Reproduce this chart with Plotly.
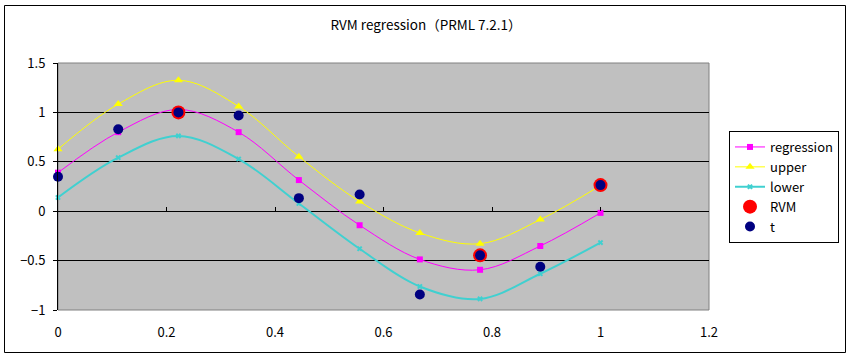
import plotly.graph_objects as go

# ---- data ----
x_vals = [0.0, 0.111, 0.222, 0.333, 0.444, 0.556, 0.667, 0.778, 0.889, 1.0]
regression = [0.39, 0.80, 1.03, 0.80, 0.315, -0.142, -0.488, -0.593, -0.352, -0.017]
upper = [0.627, 1.084, 1.325, 1.06, 0.552, 0.098, -0.22, -0.329, -0.085, 0.26]
lower = [0.139, 0.542, 0.762, 0.528, 0.078, -0.38, -0.762, -0.888, -0.633, -0.318]
t_vals = [0.349, 0.83, 1.0, 0.969, 0.132, 0.169, -0.843, -0.447, -0.562, 0.264]
rvm_x = [0.222, 0.778, 1.0]
rvm_y = [1.0, -0.447, 0.264]

title_text = "RVM regression（PRML 7.2.1）"
FONT = "Noto Sans CJK JP, Liberation Sans, sans-serif"

fig = go.Figure()
fig.add_trace(go.Scatter(x=x_vals, y=regression, name="regression", mode="lines+markers",
                         line=dict(color="#FF00FF", width=1, shape="spline"),
                         marker=dict(symbol="square", size=6, color="#FF00FF"), cliponaxis=False))
fig.add_trace(go.Scatter(x=x_vals, y=upper, name="upper", mode="lines+markers",
                         line=dict(color="#FFFF00", width=1, shape="spline"),
                         marker=dict(symbol="triangle-up", size=8, color="#FFFF00"), cliponaxis=False))
fig.add_trace(go.Scatter(x=x_vals, y=lower, name="lower", mode="lines+markers",
                         line=dict(color="#40D0D0", width=2, shape="spline"),
                         marker=dict(symbol="x", size=5, color="#40D0D0"), cliponaxis=False))
fig.add_trace(go.Scatter(x=rvm_x, y=rvm_y, name="RVM", mode="markers",
                         marker=dict(symbol="circle", size=14, color="#FF0000"), cliponaxis=False))
fig.add_trace(go.Scatter(x=x_vals, y=t_vals, name="t", mode="markers",
                         marker=dict(symbol="circle", size=10, color="#000080"), cliponaxis=False))
# helper trace for the tick-mark axis crossing at y=0
fig.add_trace(go.Scatter(x=[], y=[], xaxis="x2", showlegend=False, hoverinfo="skip"))

W, H = 852, 359
L, R, T, B = 58, 143, 63, 49
pw, ph = W - L - R, H - T - B

def px_x(p):
    return (p - L) / pw

def px_y(p):
    return (H - B - p) / ph

fig.update_layout(
    width=W, height=H,
    margin=dict(l=L, r=R, t=T, b=B),
    paper_bgcolor="white",
    plot_bgcolor="#C0C0C0",
    font=dict(family=FONT, size=13, color="black"),
    title=dict(text=title_text, x=0.5, xanchor="center", y=1 - 25 / H, yanchor="middle",
               font=dict(family=FONT, size=13.5, color="black")),
    showlegend=True,
    legend=dict(x=px_x(729), y=px_y(131), xanchor="left", yanchor="top",
                bordercolor="black", borderwidth=1, bgcolor="white", itemwidth=30,
                font=dict(family=FONT, size=13), tracegroupgap=0),
    xaxis=dict(range=[0, 1.2], dtick=0.2, tick0=0, showgrid=False, zeroline=False,
               showline=False, ticks="", ticklabelstandoff=13),
    xaxis2=dict(range=[0, 1.2], dtick=0.2, tick0=0, overlaying="x", anchor="free",
                position=0.4, side="bottom", showgrid=False, zeroline=False, showline=False,
                ticks="inside", ticklen=4, tickcolor="black", showticklabels=False),
    yaxis=dict(range=[-1, 1.5], dtick=0.5, tick0=0, showgrid=True, gridcolor="black",
               gridwidth=1, zeroline=True, zerolinecolor="black", zerolinewidth=1,
               showline=True, linecolor="black", linewidth=1, ticks="outside",
               ticklen=4, tickcolor="black", ticklabelstandoff=5),
    shapes=[
        dict(type="rect", xref="paper", yref="paper", x0=0, x1=1, y0=0, y1=1,
             line=dict(color="#808080", width=1), fillcolor="rgba(0,0,0,0)", layer="between"),
        dict(type="rect", xref="paper", yref="paper",
             x0=px_x(4.5), x1=px_x(845.5), y0=px_y(352.5), y1=px_y(5.5),
             line=dict(color="black", width=1), fillcolor="rgba(0,0,0,0)", layer="above"),
    ],
)

fig.write_html("out.html", config={"displayModeBar": False},
               post_script="document.body.style.margin='0';document.body.style.padding='0';")
